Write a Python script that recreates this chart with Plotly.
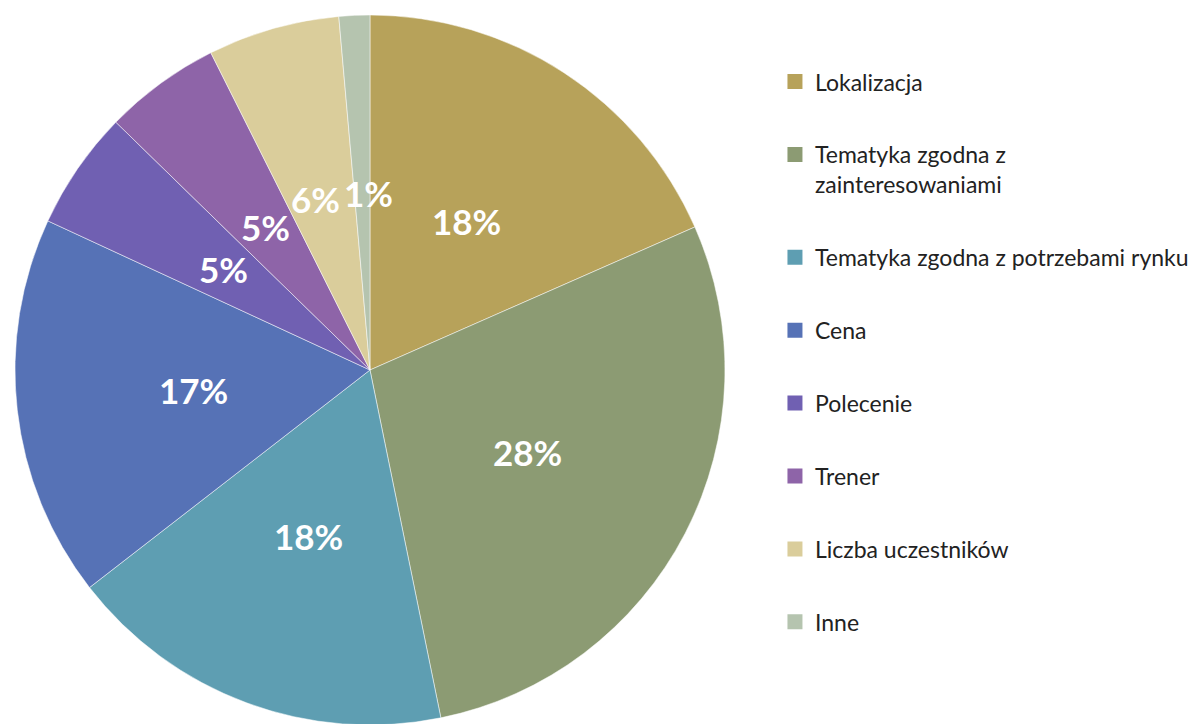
import math
import plotly.graph_objects as go

# ---- data ----
categories = [
    "Lokalizacja",
    "Tematyka zgodna z zainteresowaniami",
    "Tematyka zgodna z potrzebami rynku",
    "Cena",
    "Polecenie",
    "Trener",
    "Liczba uczestników",
    "Inne",
]
legend_labels = [
    "Lokalizacja",
    "Tematyka zgodna z<br>zainteresowaniami",
    "Tematyka zgodna z potrzebami rynku",
    "Cena",
    "Polecenie",
    "Trener",
    "Liczba uczestników",
    "Inne",
]
values = [18.4, 28.4, 17.7, 17.4, 5.4, 5.3, 6.0, 1.4]
colors = ["#B7A25A", "#8C9B73", "#5E9EB2", "#5672B6", "#7060B2", "#8E64A8", "#DACD9B", "#B5C4AF"]

W, H = 1201, 724
dom_x = [0.0058, 0.5970]
dom_y = [0.0097, 0.9903]
label_xshift = {6: -6, 7: 6}  # small nudge so the two thin-slice labels do not collide

fig = go.Figure()
fig.add_trace(go.Pie(
    labels=categories,
    values=values,
    sort=False,
    direction="clockwise",
    rotation=0,
    marker=dict(colors=colors, line=dict(color="rgba(255,255,255,0.5)", width=1)),
    textinfo="none",
    hoverinfo="skip",
    showlegend=False,
    domain=dict(x=dom_x, y=dom_y),
))

# legend entries (one group per category so the gap can be set)
for i, (lab, col) in enumerate(zip(legend_labels, colors)):
    fig.add_trace(go.Scatter(
        x=[None], y=[None], mode="markers", name=lab,
        marker=dict(symbol="square", size=15, color=col),
        legendgroup=f"g{i}", showlegend=True, hoverinfo="skip",
    ))

# percentage labels placed at half radius on each slice's mid-angle
total = sum(values)
cx = (dom_x[0] + dom_x[1]) / 2 * W
cy = (1 - (dom_y[0] + dom_y[1]) / 2) * H
R = min((dom_x[1] - dom_x[0]) * W, (dom_y[1] - dom_y[0]) * H) / 2
cum = 0.0
for i, v in enumerate(values):
    mid = (cum + v / 2) / total * 2 * math.pi
    cum += v
    px = cx + 0.5 * R * math.sin(mid)
    py = cy - 0.5 * R * math.cos(mid)
    fig.add_annotation(
        x=px / W, y=1 - py / H, xref="paper", yref="paper",
        text=f"{round(v / total * 100)}%", showarrow=False,
        font=dict(family="Lato", size=35, color="white", weight="bold"),
        xanchor="center", yanchor="middle",
        xshift=label_xshift.get(i, 0),
    )

fig.update_layout(
    width=W, height=H,
    margin=dict(l=0, r=0, t=0, b=0),
    paper_bgcolor="white",
    plot_bgcolor="white",
    xaxis=dict(visible=False),
    yaxis=dict(visible=False),
    showlegend=True,
    legend=dict(
        x=0.6386, y=0.928, xanchor="left", yanchor="top",
        font=dict(family="Lato", size=23, color="#222222"),
        valign="top",
        tracegroupgap=40,
        traceorder="grouped",
        itemclick=False,
        itemdoubleclick=False,
    ),
)

fig.write_html("out.html")
